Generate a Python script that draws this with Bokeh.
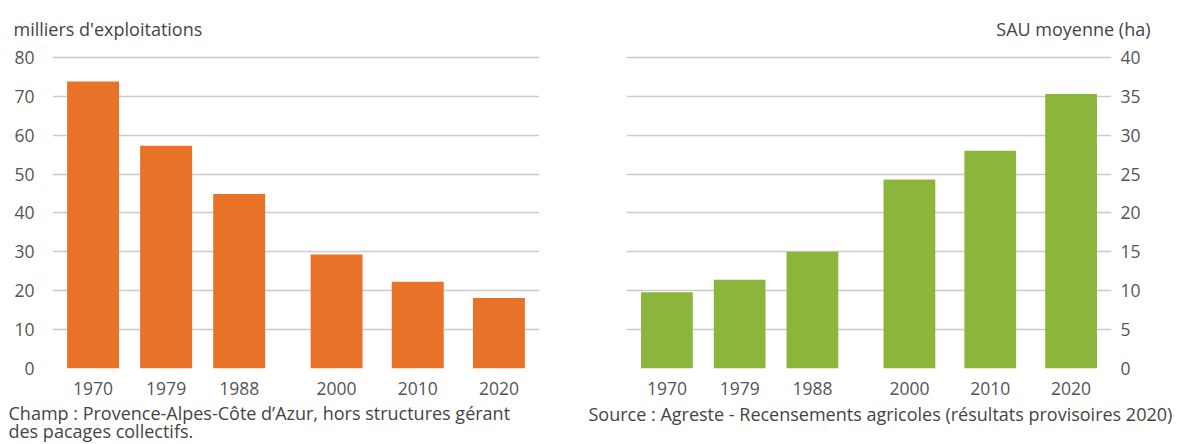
from bokeh.plotting import figure
from bokeh.layouts import row
from bokeh.models import Range1d, FixedTicker, Title
from bokeh.embed import file_html
from bokeh.resources import INLINE

# ---- data ----
years = [1970, 1979, 1988, 2000, 2010, 2020]
year_labels = ["1970", "1979", "1988", "2000", "2010", "2020"]
exploitations = [73.8, 57.3, 44.9, 29.3, 22.3, 18.1]      # milliers
sau_moyenne = [9.8, 11.4, 15.0, 24.3, 28.0, 35.3]          # ha
left_ticks = [0, 10, 20, 30, 40, 50, 60, 70, 80]
right_ticks = [0, 5, 10, 15, 20, 25, 30, 35, 40]
left_unit = "milliers d'exploitations"
right_unit = "SAU moyenne (ha)"
note_champ = "Champ : Provence-Alpes-Côte d’Azur, hors structures gérant\ndes pacages collectifs."
note_source = "Source : Agreste - Recensements agricoles (résultats provisoires 2020)"

FONT = "Open Sans"
ORANGE = "#E87328"
GREEN = "#8BB53B"
GRID = "#cbcbcb"
TICK_COLOR = "#555555"
TEXT_COLOR = "#444444"
TICK_SIZE = "17.5px"
NOTE_SIZE = "18px"


def make_fig(width, b_left, b_right, y_max, ticks, side, standoff):
    p = figure(width=width, height=444,
               min_border_left=b_left, min_border_right=b_right,
               min_border_top=54, min_border_bottom=76,
               x_range=Range1d(1965, 2025), y_range=Range1d(0, y_max * 1.00625),
               y_axis_location=side,
               output_backend="svg", toolbar_location=None)
    p.outline_line_color = None
    p.background_fill_color = "white"
    p.border_fill_color = "white"
    p.xgrid.visible = False
    p.ygrid.ticker = FixedTicker(ticks=ticks)
    p.ygrid.grid_line_color = GRID
    p.ygrid.grid_line_width = 1.4
    for ax in p.yaxis:
        ax.ticker = FixedTicker(ticks=ticks)
        ax.axis_line_color = None
        ax.major_tick_line_color = None
        ax.minor_tick_line_color = None
        ax.major_tick_out = 0
        ax.major_tick_in = 0
        ax.minor_tick_out = 0
        ax.major_label_standoff = standoff
        ax.major_label_text_font = FONT
        ax.major_label_text_font_size = TICK_SIZE
        ax.major_label_text_color = TICK_COLOR
    for ax in p.xaxis:
        ax.ticker = FixedTicker(ticks=years)
        ax.major_label_overrides = {y: l for y, l in zip(years, year_labels)}
        ax.axis_line_color = None
        ax.major_tick_line_color = None
        ax.minor_tick_line_color = None
        ax.major_tick_out = 0
        ax.major_tick_in = 0
        ax.minor_tick_out = 0
        ax.major_label_standoff = 13
        ax.major_label_text_font = FONT
        ax.major_label_text_font_size = TICK_SIZE
        ax.major_label_text_color = TICK_COLOR
    return p


def note(text, align, offset, standoff, lh=1.0):
    return Title(text=text, align=align, offset=offset, standoff=standoff,
                 text_font=FONT, text_font_size=NOTE_SIZE, text_line_height=lh,
                 text_font_style="normal", text_color=TEXT_COLOR)


# left panel
p1 = make_fig(582, 52, 43, 80, left_ticks, "left", 18)
p1.vbar(x=years, top=exploitations, width=6.4, bottom=0,
        fill_color=ORANGE, line_color=None)
p1.add_layout(note(left_unit, "left", -39, 29), "above")
p1.add_layout(note(note_champ, "left", -44, 2, 0.75), "below")

# right panel
p2 = make_fig(597, 44, 68, 40, right_ticks, "right", 9)
p2.vbar(x=years, top=sau_moyenne, width=6.4, bottom=0,
        fill_color=GREEN, line_color=None)
p2.add_layout(note(right_unit, "right", -39, 29), "above")
p2.add_layout(note(note_source, "left", -38, 5), "below")

layout = row(p1, p2, spacing=0)
open("out.html", "w").write(file_html(layout, INLINE))
